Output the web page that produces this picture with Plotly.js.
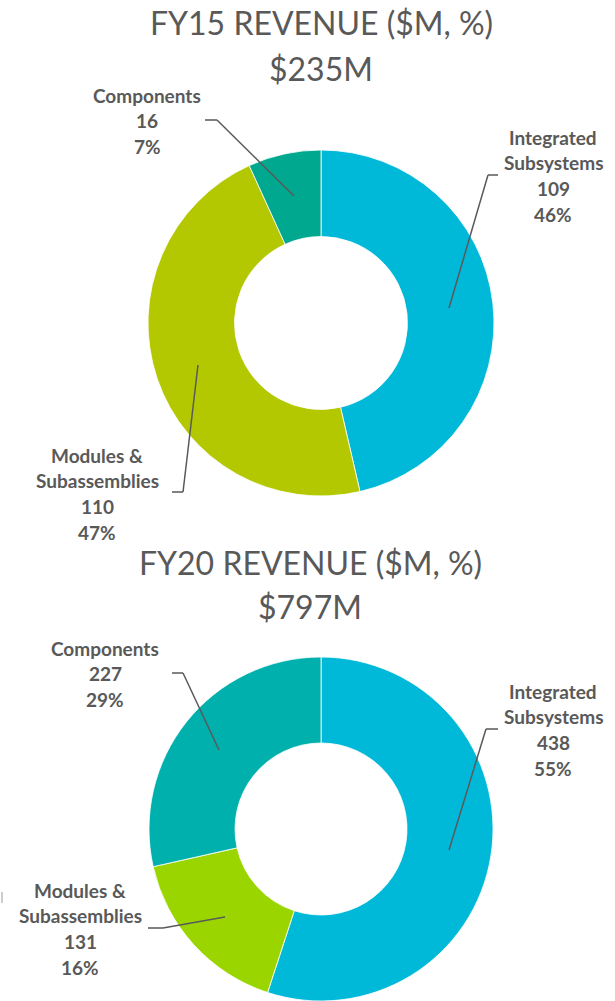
<!DOCTYPE html>
<html>
<head>
<meta charset="utf-8">
<script src="https://cdn.plot.ly/plotly-3.0.1.min.js"></script>
<style>html,body{margin:0;padding:0;background:#fff;}#chart{width:615px;height:1001px;}</style>
</head>
<body>
<div id="chart"></div>
<script>
// ---- data ----
const categories = ['Integrated Subsystems', 'Modules & Subassemblies', 'Components'];
const labelLines = [['Integrated', 'Subsystems'], ['Modules &', 'Subassemblies'], ['Components']];
const fy15Values = [109, 110, 16];
const fy20Values = [438, 131, 227];
const fy15Title = ['FY15 REVENUE ($M, %)', '$235M'];
const fy20Title = ['FY20 REVENUE ($M, %)', '$797M'];

// ---- styling ----
const W = 615, H = 1001;
const px = x => x / W;
const py = y => 1 - y / H;
const TEXT = '#595959';
const FONT = 'Lato, Carlito, Calibri, sans-serif';
const fy15Colors = ['#00B9D9', '#B3C800', '#00A88F'];
const fy20Colors = ['#00B9D9', '#9BD500', '#00B0AD'];

const traces = [
  {type: 'pie', labels: categories, values: fy15Values, hole: 0.5, sort: false,
   direction: 'clockwise', rotation: 0, textinfo: 'none', hoverinfo: 'label+value+percent',
   marker: {colors: fy15Colors, line: {color: '#ffffff', width: 0.8}},
   domain: {x: [px(148), px(494)], y: [py(496), py(150)]}, showlegend: false},
  {type: 'pie', labels: categories, values: fy20Values, hole: 0.5, sort: false,
   direction: 'clockwise', rotation: 0, textinfo: 'none', hoverinfo: 'label+value+percent',
   marker: {colors: fy20Colors, line: {color: '#ffffff', width: 0.8}},
   domain: {x: [px(148), px(494)], y: [0, py(657)]}, showlegend: false}
];

const annotations = [];
function addLines(lines, cx, cy0, step, size, bold) {
  lines.forEach((t, i) => {
    annotations.push({xref: 'paper', yref: 'paper', x: px(cx), y: py(cy0 + i * step),
      xanchor: 'center', yanchor: 'middle', showarrow: false,
      text: bold ? '<b>' + t + '</b>' : t,
      font: {family: FONT, size: size, color: TEXT}});
  });
}
addLines(fy15Title, 321, 22, 46, 32, false);
addLines(fy20Title, 310, 562, 44, 32, false);

function pieLabels(values, positions) {
  const total = values.reduce((a, b) => a + b, 0);
  values.forEach((v, i) => {
    const lines = labelLines[i].concat([String(v), Math.round(v / total * 100) + '%']);
    addLines(lines, positions[i][0], positions[i][1], 25.8, 19, true);
  });
}
pieLabels(fy15Values, [[553, 137], [97, 455], [147, 95]]);
pieLabels(fy20Values, [[553, 691], [80, 890], [105, 648]]);

const leaders = [
  [[205, 120], [217, 120], [294, 196]],
  [[498, 175], [488, 175], [449, 308]],
  [[172, 492], [183, 492], [198, 365]],
  [[172, 673], [183, 673], [219, 750]],
  [[498, 729], [486, 729], [449, 850]],
  [[148, 928], [163, 928], [225, 917]]
];
const shapes = [];
leaders.forEach(pts => {
  for (let i = 0; i < pts.length - 1; i++) {
    shapes.push({type: 'line', xref: 'paper', yref: 'paper',
      x0: px(pts[i][0]), y0: py(pts[i][1]), x1: px(pts[i + 1][0]), y1: py(pts[i + 1][1]),
      line: {color: TEXT, width: 1.5}});
  }
});
shapes.push({type: 'line', xref: 'paper', yref: 'paper', x0: px(2), y0: py(892), x1: px(2), y1: py(903),
  line: {color: '#9a9a9a', width: 1}});

Plotly.newPlot('chart', traces, {
  width: W, height: H, margin: {l: 0, r: 0, t: 0, b: 0},
  paper_bgcolor: '#ffffff', plot_bgcolor: '#ffffff',
  annotations: annotations, shapes: shapes, showlegend: false
}, {displayModeBar: false, staticPlot: true});
</script>
</body>
</html>
